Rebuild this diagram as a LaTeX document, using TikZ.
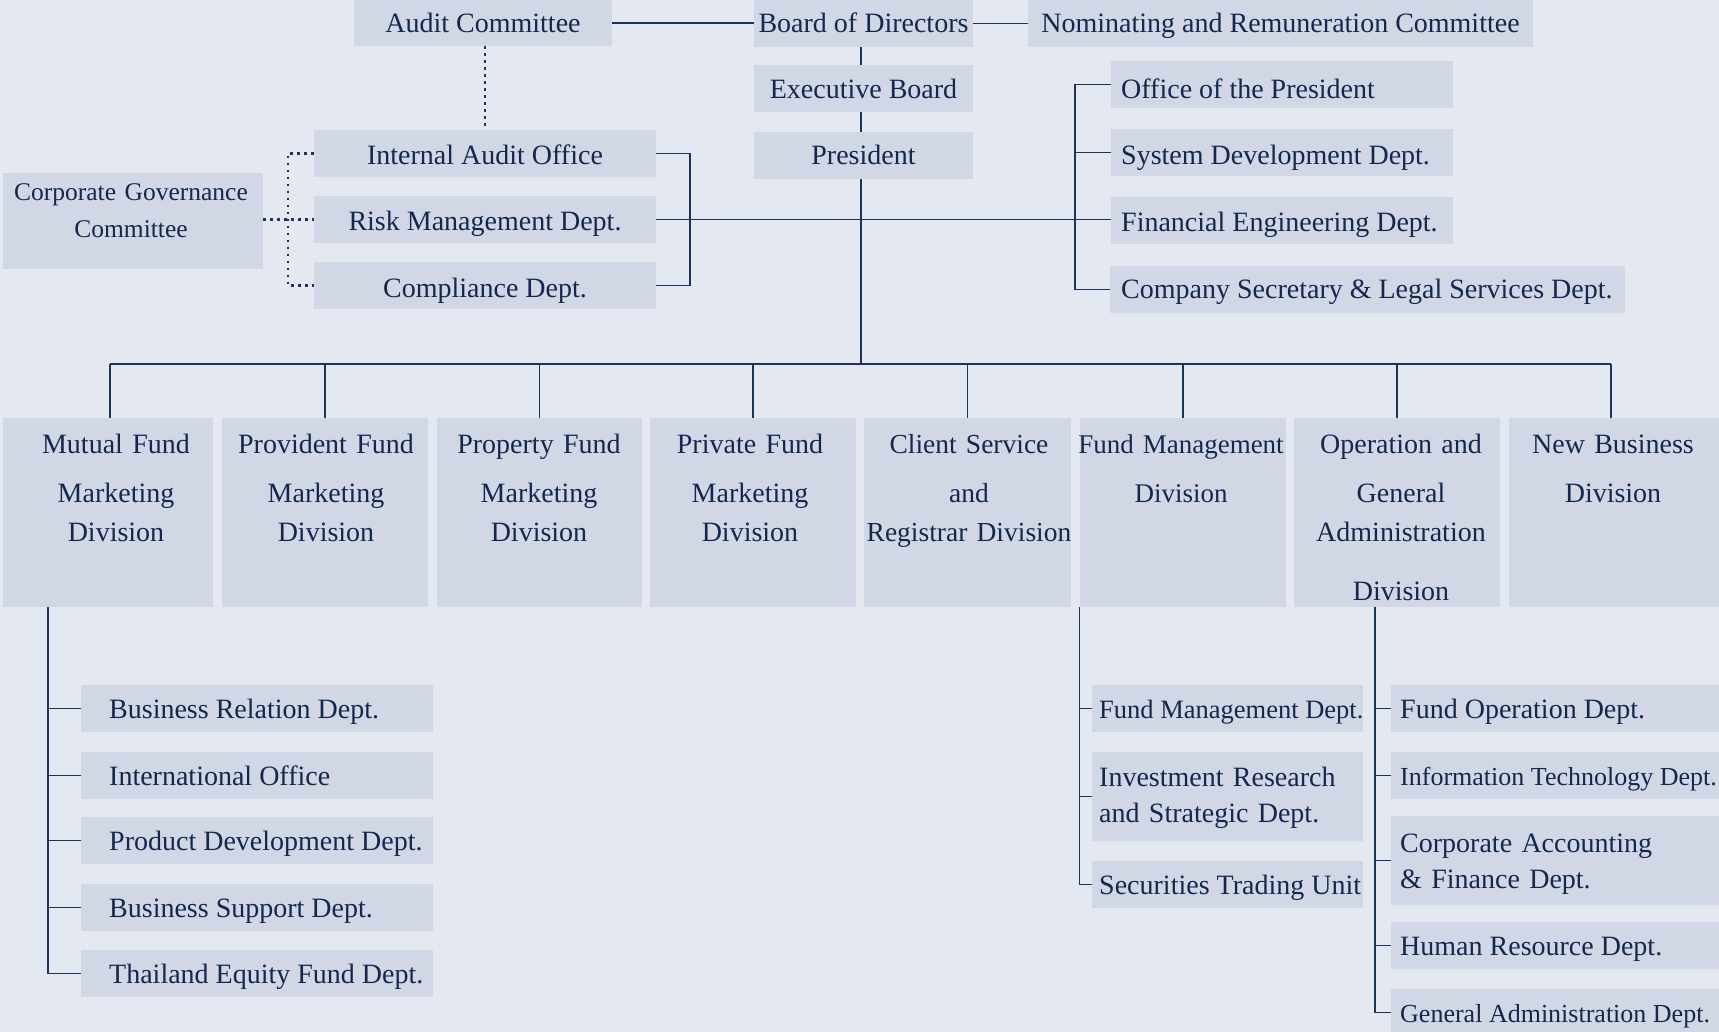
\documentclass[tikz,border=0pt]{standalone}
\usepackage{fontspec}
\setmainfont{Liberation Serif}
\definecolor{bgc}{RGB}{228,232,240}
\definecolor{boxc}{RGB}{210,215,230}
\definecolor{txtc}{RGB}{20,40,78}
\definecolor{linec}{RGB}{28,52,92}
\newcommand\myfs{\fontsize{28pt}{39pt}\selectfont}
\tikzset{
  bx/.style={fill=boxc, draw=none, inner sep=0pt, text=txtc, font=\myfs},
  one/.style={text height=20pt, text depth=0pt},
  lt/.style={text=txtc, font=\myfs, inner sep=0pt, anchor=base west},
  mt/.style={text=txtc, font=\myfs, inner sep=0pt, anchor=base, text width=300pt, align=center},
  ml/.style={text=txtc, font=\fontsize{28pt}{36.5pt}\selectfont, inner sep=0pt, anchor=base west, text width=340pt, align=left},
  conn/.style={draw=linec, line width=1.2pt},
  dotc/.style={draw=linec, line width=2.4pt, dash pattern=on 2.4pt off 4.6pt},
}
\begin{document}
\begin{tikzpicture}[x=1pt,y=-1pt]
\fill[bgc] (0,0) rectangle (1719,1032);
\useasboundingbox (0,0) rectangle (1719,1032);

% top level
\node[bx, one, text height=18.5pt, minimum width=258pt, minimum height=46pt] (audit) at (483,23) {Audit Committee};
\node[bx, one, text height=18.5pt, minimum width=219pt, minimum height=47pt] (board) at (863.5,23.5) {Board of Directors};
\node[bx, one, text height=18.5pt, minimum width=505pt, minimum height=47pt] (nom) at (1280.5,23.5) {Nominating and Remuneration Committee};
\node[bx, one, text height=21pt, minimum width=219pt, minimum height=47pt] (exec) at (863.5,88.5) {Executive Board};
\node[bx, one, text height=19pt, minimum width=219pt, minimum height=47pt] (pres) at (863.5,155.5) {President};
\node[bx, one, text height=21.5pt, minimum width=342pt, minimum height=47pt] (iao) at (485,153.5) {Internal Audit Office};
\node[bx, one, text height=23pt, minimum width=342pt, minimum height=47pt] (risk) at (485,219.5) {Risk Management Dept.};
\node[bx, one, text height=23.5pt, minimum width=342pt, minimum height=47pt] (comp) at (485,285.5) {Compliance Dept.};
\node[bx, minimum width=260pt, minimum height=96pt] (cgc) at (133,221) {};
\node[mt, font=\fontsize{25.5pt}{37pt}\selectfont] (cgct) at (131,201) {Corporate Governance\\Committee};

% right column under president
\node[bx, minimum width=342pt, minimum height=47pt] (office) at (1282,84.5) {};
\node[lt] (officet) at (1121,99) {Office of the President};
\node[bx, minimum width=342pt, minimum height=47pt] (sysdev) at (1282,152.5) {};
\node[lt] (sysdevt) at (1121,165) {System Development Dept.};
\node[bx, minimum width=342pt, minimum height=47pt] (fineng) at (1282,220.5) {};
\node[lt] (finengt) at (1121,232) {Financial Engineering Dept.};
\node[bx, minimum width=515pt, minimum height=47pt] (compsec) at (1367.5,289.5) {};
\node[lt] (compsect) at (1121,298.5) {Company Secretary \& Legal Services Dept.};

% divisions
\node[bx, minimum width=210pt, minimum height=189pt] (d1) at (108,512.5) {};
\node[bx, minimum width=206pt, minimum height=189pt] (d2) at (325,512.5) {};
\node[bx, minimum width=205pt, minimum height=189pt] (d3) at (539.5,512.5) {};
\node[bx, minimum width=206pt, minimum height=189pt] (d4) at (753,512.5) {};
\node[bx, minimum width=207pt, minimum height=189pt] (d5) at (967.5,512.5) {};
\node[bx, minimum width=206pt, minimum height=189pt] (d6) at (1183,512.5) {};
\node[bx, minimum width=206pt, minimum height=189pt] (d7) at (1397,512.5) {};
\node[bx, minimum width=210pt, minimum height=189pt] (d8) at (1614,512.5) {};
\node[mt] (d1t) at (116,453) {Mutual Fund\\[10pt]Marketing\\Division};
\node[mt] (d2t) at (326,453) {Provident Fund\\[10pt]Marketing\\Division};
\node[mt] (d3t) at (539,453) {Property Fund\\[10pt]Marketing\\Division};
\node[mt] (d4t) at (750,453) {Private Fund\\[10pt]Marketing\\Division};
\node[mt, font=\fontsize{27.5pt}{39pt}\selectfont] (d5t) at (969,453) {Client Service\\[10pt]and\\Registrar Division};
\node[mt, font=\fontsize{27pt}{39pt}\selectfont] (d6t) at (1181,453) {Fund Management\\[10pt]Division};
\node[mt] (d7t) at (1401,453) {Operation and\\[10pt]General\\Administration\\[20pt]Division};
\node[mt] (d8t) at (1613,453) {New Business\\[10pt]Division};

% mutual fund departments
\node[bx, minimum width=352pt, minimum height=47pt] (br) at (257,708.5) {};
\node[lt] (brt) at (109,718) {Business Relation Dept.};
\node[bx, minimum width=352pt, minimum height=47pt] (io) at (257,775.5) {};
\node[lt] (iot) at (109,785) {International Office};
\node[bx, minimum width=352pt, minimum height=47pt] (pd) at (257,840.5) {};
\node[lt] (pdt) at (109,850) {Product Development Dept.};
\node[bx, minimum width=352pt, minimum height=47pt] (bs) at (257,907.5) {};
\node[lt] (bst) at (109,917) {Business Support Dept.};
\node[bx, minimum width=352pt, minimum height=47pt] (te) at (257,973.5) {};
\node[lt] (tet) at (109,983.5) {Thailand Equity Fund Dept.};

% fund management departments
\node[bx, minimum width=271pt, minimum height=47pt] (fmd) at (1227.5,708.5) {};
\node[lt, font=\fontsize{26.5pt}{30pt}\selectfont] (fmdt) at (1099,718) {Fund Management Dept.};
\node[bx, minimum width=271pt, minimum height=89pt] (irs) at (1227.5,796.5) {};
\node[ml] (irst) at (1099,786) {Investment Research\\and Strategic Dept.};
\node[bx, minimum width=271pt, minimum height=47pt] (stu) at (1227.5,884.5) {};
\node[lt] (stut) at (1099,894) {Securities Trading Unit};

% operation departments
\node[bx, minimum width=334pt, minimum height=47pt] (fo) at (1558,708.5) {};
\node[lt] (fot) at (1400,718) {Fund Operation Dept.};
\node[bx, minimum width=334pt, minimum height=47pt] (it) at (1558,775.5) {};
\node[lt, font=\fontsize{26pt}{30pt}\selectfont] (itt) at (1400,785) {Information Technology Dept.};
\node[bx, minimum width=334pt, minimum height=89pt] (caf) at (1558,860.5) {};
\node[ml] (caft) at (1400,852) {Corporate Accounting\\\& Finance Dept.};
\node[bx, minimum width=334pt, minimum height=47pt] (hr) at (1558,945.5) {};
\node[lt] (hrt) at (1400,955) {Human Resource Dept.};
\node[bx, minimum width=334pt, minimum height=47pt] (ga) at (1558,1012.5) {};
\node[lt, font=\fontsize{26pt}{30pt}\selectfont] (gat) at (1400,1022) {General Administration Dept.};

% helper coordinates
\coordinate (bus) at (0,364);
\coordinate (trunk) at (861,0);
\coordinate (lbx) at (690,0);
\coordinate (rbx) at (1075,0);
\coordinate (dbx) at (288,0);
\coordinate (mfx) at (48,0);
\coordinate (opx) at (1375,0);
\coordinate (d1top) at (110,418);
\coordinate (d8top) at (1611,418);

% connectors
\draw[conn] (audit.east) -- (audit.east -| board.west);
\draw[conn] (board.east) -- (nom.west);
\draw[conn] (board.south -| trunk) -- (exec.north -| trunk);
\draw[conn] (exec.south -| trunk) -- (pres.north -| trunk);
\draw[conn] (pres.south -| trunk) -- (trunk |- bus);
\draw[conn] (d1top |- bus) -- (d8top |- bus);
\draw[conn] (d1top |- bus) -- (d1top);
\draw[conn] (d8top |- bus) -- (d8top);
\foreach \d in {d2,d3,d4,d5,d6,d7} \draw[conn] (\d.north |- bus) -- (\d.north);
\draw[conn] (risk.east) -- (risk.east -| fineng.west);
\draw[conn] (iao.east) -- (iao.east -| lbx) |- (comp.east);
\draw[conn] (office.west) -- (office.west -| rbx) |- (compsec.west);
\draw[conn] (sysdev.west -| rbx) -- (sysdev.west);

\draw[dotc] (iao.north |- audit.south) -- (iao.north);
\draw[dotc] (iao.west) -- (iao.west -| dbx) |- (comp.west);
\draw[dotc] (cgc.east |- risk.west) -- (risk.west);

\draw[conn] (d1.south -| mfx) |- (te.west);
\foreach \b in {br,io,pd,bs} \draw[conn] (\b.west -| mfx) -- (\b.west);
\draw[conn] (d6.south west) |- (stu.west);
\foreach \b in {fmd,irs} \draw[conn] (\b.west -| d6.south west) -- (\b.west);
\draw[conn] (d7.south -| opx) |- (ga.west);
\foreach \b in {fo,it,caf,hr} \draw[conn] (\b.west -| opx) -- (\b.west);
\end{tikzpicture}
\end{document}
